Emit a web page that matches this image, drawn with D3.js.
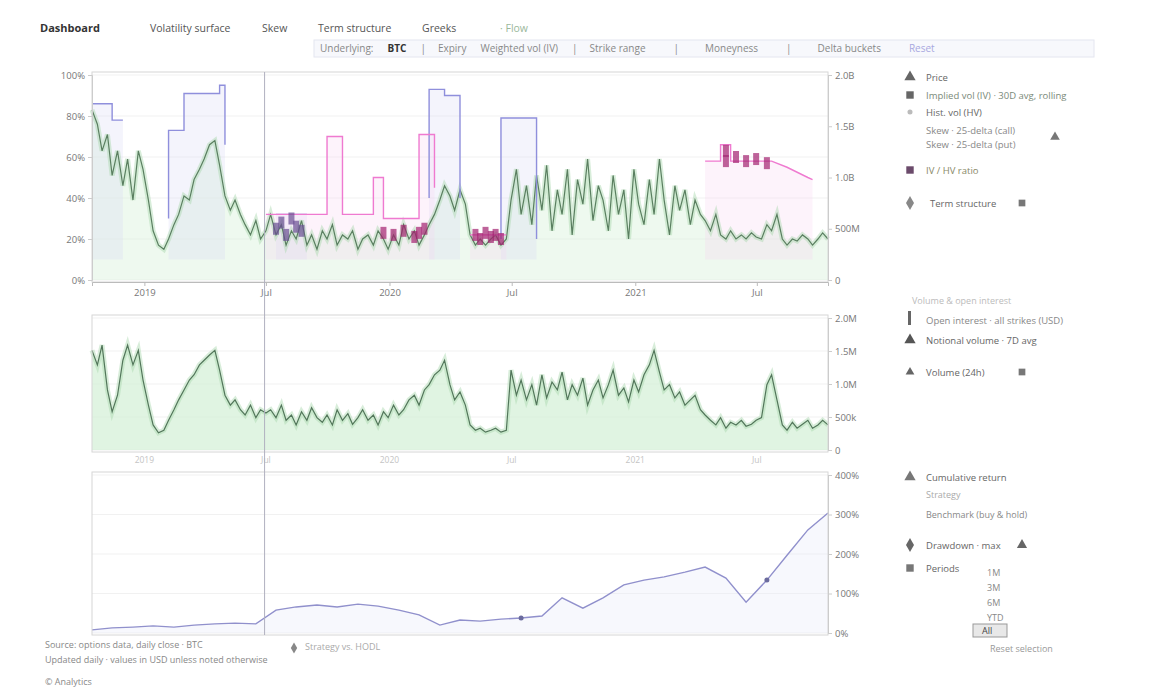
<!DOCTYPE html>
<html><head><meta charset="utf-8">
<script src="https://cdn.jsdelivr.net/npm/d3@7"></script>
<style>
body{margin:0;background:#fff;font-family:"Open Sans","DejaVu Sans",sans-serif;}
text{font-family:"Open Sans","DejaVu Sans",sans-serif;}
</style></head><body>
<svg id="c" width="1170" height="700"></svg>
<script>
// ---------------- DATA ----------------
const startDate = new Date(2018, 9, 15);
const endDate = new Date(2021, 9, 15);
const tickDates = [new Date(2019,0,1), new Date(2019,6,1), new Date(2020,0,1), new Date(2020,6,1), new Date(2021,0,1), new Date(2021,6,1)];
const tickLabels = ["2019", "Jul", "2020", "Jul", "2021", "Jul"];
const markerDate = new Date(2019, 5, 29);
const leftTicks = [0, 20, 40, 60, 80, 100];
const leftTickLabels = ["0%", "20%", "40%", "60%", "80%", "100%"];
const rightTicks1 = [0, 500, 1000, 1500, 2000];
const rightTickLabels1 = ["0", "500M", "1.0B", "1.5B", "2.0B"];
const rightTicks2 = [0, 500, 1000, 1500, 2000];
const rightTickLabels2 = ["0", "500k", "1.0M", "1.5M", "2.0M"];
const rightTicks3 = [0, 100, 200, 300, 400];
const rightTickLabels3 = ["0%", "100%", "200%", "300%", "400%"];

// implied volatility (%), one value per step
const ivValues = [83,76,63,71,51,63,46,59,39,63,
  54,39,24,17,15,
  20,27,32,41,39,49,54,59,66,
  68,56,41,34,39,32,
  27,22,29,20,24,
  32,22,27,17,24,20,29,17,22,15,24,20,27,17,22,20,24,15,20,22,17,24,20,15,22,17,27,20,24,17,22,27,32,
  39,46,41,34,44,37,
  22,17,20,17,20,22,17,20,
  39,54,32,46,27,51,34,56,24,44,32,54,22,49,37,59,29,46,39,24,51,32,44,20,54,37,27,49,32,59,39,22,46,34,44,27,39,32,
  29,24,32,22,20,24,20,22,20,23,21,20,27,24,
  32,20,17,20,19,22,20,17,20,23,20];

// volume (thousands)
const volumeValues = [1510,1290,1590,910,580,830,1360,1590,1290,1510,
  1060,680,380,260,300,
  450,610,760,910,1060,1140,1290,1360,1440,
  1510,1210,830,680,760,610,
  530,680,490,610,560,
  610,490,680,450,530,380,580,450,640,490,420,530,380,610,450,550,390,490,610,450,530,380,580,490,680,530,610,760,830,680,910,990,1140,
  1210,1360,990,760,880,680,
  380,300,330,270,300,330,270,300,
  1210,830,1060,760,990,680,1140,790,1030,910,1180,760,990,830,1090,680,910,1060,790,990,1210,830,940,730,1060,880,1140,1290,1510,1180,910,990,790,880,680,760,830,610,
  530,450,380,490,330,420,380,450,360,390,450,490,990,1140,
  760,380,300,420,330,390,450,330,380,450,380];

// historical vol steps [step, value]; null = gap
const hvSteps = [[0,86],[4,86],[4,78],[6,78], null,
  [15,30],[15,73],[18,73],[18,91],[25,91],[25,95],[26,95],[26,66], null,
  [36,32],[42,32], null,
  [66,40],[66,93],[69,93],[69,90],[72,90],[72,40], null,
  [80,20],[80,79],[87,79],[87,20]];

// skew steps [step, value]
const skewSteps = [[34,32],[46,32],[46,70],[49,70],[49,32],[55,32],[55,50],[57,50],[57,30],[64,30],[64,71],[67,71],[67,45], null,
  [74,22],[81,22], null,
  [120,58],[123,58],[123,66],[125,66],[125,58],[133,58],[136,55],[140,50],[141,49]];

// IV/HV ratio markers [step, value]
const ratioMarks = [[36,25],[37,28],[38,22],[39,30],[40,26],[41,24],
  [57,23],[59,22],[61,24],[63,21],[64,23],[65,25],
  [75,22],[76,20],[77,23],[78,21],[79,22],[80,20],
  [124,63],[124,58],[126,60],[128,58],[130,59],[132,57]];

// cumulative return (%) [step, value]
const cumReturn = [[0,8],[4,13],[8,15],[12,18],[16,15],[20,20],[24,23],[28,25],[32,23],[36,58],[40,66],[44,71],[48,66],[52,73],[56,68],[60,58],[64,46],[68,20],[72,33],[76,30],[80,35],[84,38],[88,43],[92,89],[96,63],[100,89],[104,122],[108,134],[112,142],[116,154],[120,167],[124,139],[128,78],[132,134],[136,197],[140,261],[144,304]];

// text
const navItems = ["Dashboard", "Volatility surface", "Skew", "Term structure", "Greeks", "· Flow"];
const filterItems = ["Underlying:", "BTC", "|", "Expiry", "Weighted vol (IV)", "|", "Strike range", "|", "Moneyness", "|", "Delta buckets", "Reset"];
const legend1 = ["Price", "Implied vol (IV) · 30D avg, rolling", "Hist. vol (HV)", "Skew · 25-delta (call)", "Skew · 25-delta (put)", "IV / HV ratio", "Term structure"];
const legend2 = ["Volume & open interest", "Open interest · all strikes (USD)", "Notional volume · 7D avg", "Volume (24h)"];
const legend3 = ["Cumulative return", "Strategy", "Benchmark (buy & hold)", "Drawdown · max", "Periods"];
const periodItems = ["1M", "3M", "6M", "YTD", "All", "Reset selection"];
const footNotes = ["Source: options data, daily close · BTC", "Updated daily · values in USD unless noted otherwise", "© Analytics"];
const subLegend = "Strategy vs. HODL";

// ---------------- DRAW ----------------
const svg = d3.select("#c");
const N = ivValues.length;
const daySpan = 1096;
const dateAt = i => d3.timeDay.offset(startDate, Math.round(i * daySpan / (N - 1)));

const x = d3.scaleTime().domain([startDate, endDate]).range([92, 828]);

const P1 = {top: 75, bottom: 280};
const P2 = {top: 318, bottom: 450};
const P3 = {top: 475, bottom: 633};

const yL = d3.scaleLinear().domain([0, 100]).range([P1.bottom, P1.top]);
const yR1 = d3.scaleLinear().domain([0, 2000]).range([P1.bottom, P1.top]);
const yV = d3.scaleLinear().domain([0, 2000]).range([P2.bottom, P2.top]);
const yC = d3.scaleLinear().domain([0, 400]).range([P3.bottom, P3.top]);

const grey = "#777";
// toolbar
let nx = [40, 150, 262, 318, 422, 500];
navItems.forEach((t, i) => {
  svg.append("text").attr("x", nx[i]).attr("y", 32).text(t)
    .attr("font-size", i === 0 ? 11 : 10.5).attr("font-weight", i === 0 ? 700 : 400)
    .attr("fill", i === 0 ? "#333" : (i === 5 ? "#9bb89b" : "#555"));
});
svg.append("rect").attr("x", 314).attr("y", 40).attr("width", 780).attr("height", 17)
  .attr("fill", "#f7f8fc").attr("stroke", "#e4e6f0");
let fx = 320;
filterItems.forEach((t, i) => {
  const el = svg.append("text").attr("x", fx).attr("y", 52).text(t)
    .attr("font-size", 10).attr("fill", t === "BTC" ? "#333" : (t === "Reset" ? "#a8a8e0" : "#888"))
    .attr("font-weight", t === "BTC" ? 700 : 400);
  fx += el.node().getComputedTextLength() + (t === "|" ? 12 : 14) + (i > 5 ? 14 : 0);
});

function frame(top, bottom) {
  svg.append("rect").attr("x", 92).attr("y", top - 3).attr("width", 736).attr("height", bottom - top + 5)
    .attr("fill", "none").attr("stroke", "#d6d6d6");
}
function grid(scale, ticks) {
  svg.append("g").selectAll("line").data(ticks).join("line")
    .attr("x1", 92).attr("x2", 828).attr("y1", d => scale(d)).attr("y2", d => scale(d))
    .attr("stroke", "#f1f1f1");
}
function rightAxis(scale, ticks, labels) {
  const g = svg.append("g").attr("transform", "translate(828,0)")
    .call(d3.axisRight(scale).tickValues(ticks).tickFormat((d, i) => labels[i]).tickSize(4));
  g.select(".domain").attr("stroke", "#ccc");
  g.selectAll(".tick line").attr("stroke", "#ccc");
  g.selectAll("text").attr("fill", grey).attr("font-size", 9.5);
}

// ---- Panel 1
grid(yL, leftTicks);
const ivPts = ivValues.map((v, i) => [i, v]);
const X = d => x(dateAt(d[0]));
svg.append("path").datum(ivPts)
  .attr("d", d3.area().x(X).y0(yL(0)).y1(d => yL(d[1])))
  .attr("fill", "#d5efd7").attr("opacity", 0.4);
svg.append("path").datum(hvSteps)
  .attr("d", d3.area().defined(d => d).x(X).y0(yL(10)).y1(d => yL(d[1])))
  .attr("fill", "#d6d6f6").attr("opacity", 0.28);
svg.append("path").datum(skewSteps)
  .attr("d", d3.area().defined(d => d).x(X).y0(yL(10)).y1(d => yL(d[1])))
  .attr("fill", "#f8d0ee").attr("opacity", 0.25);
svg.append("path").datum(ivPts)
  .attr("d", d3.line().x(X).y(d => yL(d[1])))
  .attr("fill", "none").attr("stroke", "#a8d8ae").attr("stroke-width", 5).attr("opacity", 0.45);
svg.append("path").datum(ivPts)
  .attr("d", d3.line().x(X).y(d => yL(d[1])))
  .attr("fill", "none").attr("stroke", "#5a7f60").attr("stroke-width", 1.2);
svg.append("path").datum(hvSteps)
  .attr("d", d3.line().defined(d => d).x(X).y(d => yL(d[1])))
  .attr("fill", "none").attr("stroke", "#8f8fdc").attr("stroke-width", 1.4);
svg.append("path").datum(skewSteps)
  .attr("d", d3.line().defined(d => d).x(X).y(d => yL(d[1])))
  .attr("fill", "none").attr("stroke", "#ef7ad0").attr("stroke-width", 1.4);
svg.append("g").selectAll("rect").data(ratioMarks).join("rect")
  .attr("x", d => X(d) - 3).attr("y", d => yL(d[1]) - 6).attr("width", 6).attr("height", 12)
  .attr("fill", d => d[0] < 45 ? "#6a4f93" : "#a3216f").attr("opacity", 0.7);
frame(P1.top, P1.bottom);
// left axis
const gl = svg.append("g").attr("transform", "translate(92,0)")
  .call(d3.axisLeft(yL).tickValues(leftTicks).tickFormat((d, i) => leftTickLabels[i]).tickSize(4));
gl.select(".domain").attr("stroke", "#ccc");
gl.selectAll(".tick line").attr("stroke", "#ccc");
gl.selectAll("text").attr("fill", grey).attr("font-size", 9.5);
rightAxis(yR1, rightTicks1, rightTickLabels1);
// x axis
const gx = svg.append("g").attr("transform", `translate(0,${P1.bottom + 2})`)
  .call(d3.axisBottom(x).tickValues(tickDates).tickFormat((d, i) => tickLabels[i]).tickSize(4));
gx.select(".domain").attr("stroke", "#bbb");
gx.selectAll(".tick line").attr("stroke", "#bbb");
gx.selectAll("text").attr("fill", grey).attr("font-size", 9.5);

// ---- Panel 2
grid(yV, rightTicks2);
const volPts = volumeValues.map((v, i) => [i, v]);
svg.append("path").datum(volPts)
  .attr("d", d3.area().x(X).y0(yV(0)).y1(d => yV(d[1])))
  .attr("fill", "#d3f0d6").attr("opacity", 0.7);
svg.append("path").datum(volPts)
  .attr("d", d3.line().x(X).y(d => yV(d[1])))
  .attr("fill", "none").attr("stroke", "#a8d8ae").attr("stroke-width", 5).attr("opacity", 0.45);
svg.append("path").datum(volPts)
  .attr("d", d3.line().x(X).y(d => yV(d[1])))
  .attr("fill", "none").attr("stroke", "#52765a").attr("stroke-width", 1.2);
frame(P2.top, P2.bottom);
rightAxis(yV, rightTicks2, rightTickLabels2);
svg.append("g").selectAll("text").data(tickDates).join("text")
  .attr("x", d => x(d)).attr("y", P2.bottom + 13).attr("text-anchor", "middle")
  .attr("font-size", 8.5).attr("fill", "#c4c4c4").text((d, i) => tickLabels[i]);

// ---- Panel 3
grid(yC, rightTicks3);
svg.append("path").datum(cumReturn)
  .attr("d", d3.area().x(X).y0(yC(0)).y1(d => yC(d[1])))
  .attr("fill", "#e8eaf8").attr("opacity", 0.35);
svg.append("path").datum(cumReturn)
  .attr("d", d3.line().x(X).y(d => yC(d[1])))
  .attr("fill", "none").attr("stroke", "#9090cc").attr("stroke-width", 1.4);
svg.append("g").selectAll("circle").data([cumReturn[21], cumReturn[33]]).join("circle")
  .attr("cx", X).attr("cy", d => yC(d[1])).attr("r", 2.5).attr("fill", "#6b6b9e");
frame(P3.top, P3.bottom);
rightAxis(yC, rightTicks3, rightTickLabels3);

// marker line
svg.append("line").attr("x1", x(markerDate)).attr("x2", x(markerDate))
  .attr("y1", P1.top - 3).attr("y2", P3.bottom + 2).attr("stroke", "#b0b0bf").attr("stroke-width", 1);

// ---- Legends
function glyph(type, cx, cy, color, size) {
  svg.append("path").attr("transform", `translate(${cx},${cy})`)
    .attr("d", d3.symbol().type(type).size(size || 55)()).attr("fill", color);
}
function ltext(t, lx, ly, c, fs) {
  return svg.append("text").attr("x", lx).attr("y", ly + 3.5).text(t).attr("font-size", fs || 9.5).attr("fill", c || "#666");
}
// panel 1
glyph(d3.symbolTriangle, 910, 77, "#666");
ltext(legend1[0], 926, 77);
glyph(d3.symbolSquare, 910, 95, "#666");
ltext(legend1[1], 926, 95, "#7a8a7a");
glyph(d3.symbolCircle, 910, 112, "#bbb", 20);
ltext(legend1[2], 926, 112);
ltext(legend1[3], 926, 130, "#888");
ltext(legend1[4], 926, 144, "#888");
glyph(d3.symbolTriangle, 1055, 137, "#777", 40);
glyph(d3.symbolSquare, 910, 170, "#6b4a6b");
ltext(legend1[5], 926, 170, "#886");
glyph(d3.symbolDiamond, 910, 203, "#888");
ltext(legend1[6], 930, 203);
glyph(d3.symbolSquare, 1022, 203, "#777", 45);
// panel 2
ltext(legend2[0], 912, 300, "#bbb", 9);
svg.append("rect").attr("x", 908).attr("y", 311).attr("width", 3).attr("height", 14).attr("fill", "#666");
ltext(legend2[1], 926, 320, "#888");
glyph(d3.symbolTriangle, 910, 340, "#555");
ltext(legend2[2], 926, 340);
glyph(d3.symbolTriangle2 || d3.symbolTriangle, 910, 372, "#666");
ltext(legend2[3], 926, 372);
glyph(d3.symbolSquare, 1022, 372, "#777", 45);
// panel 3
glyph(d3.symbolTriangle, 910, 477, "#777");
ltext(legend3[0], 926, 477);
ltext(legend3[1], 926, 494, "#aaa", 9);
ltext(legend3[2], 926, 514, "#888", 9);
glyph(d3.symbolDiamond, 910, 545, "#666");
ltext(legend3[3], 926, 545);
glyph(d3.symbolTriangle, 1022, 545, "#666", 45);
glyph(d3.symbolSquare, 910, 568, "#777");
ltext(legend3[4], 926, 568);
periodItems.forEach((t, i) => {
  if (i < 4) ltext(t, 987, 572 + i * 15, "#888", 9);
});
svg.append("rect").attr("x", 973).attr("y", 624).attr("width", 34).attr("height", 13).attr("fill", "#e8e8e8").attr("stroke", "#999");
ltext(periodItems[4], 982, 630, "#444", 9);
ltext(periodItems[5], 990, 648, "#999", 9);

// footnotes
footNotes.forEach((t, i) => {
  svg.append("text").attr("x", 45).attr("y", [648, 663, 685][i]).text(t)
    .attr("font-size", 9).attr("fill", "#888");
});
glyph(d3.symbolDiamond, 294, 648, "#888", 35);
ltext(subLegend, 305, 646, "#aaa", 9);
</script>
</body></html>
